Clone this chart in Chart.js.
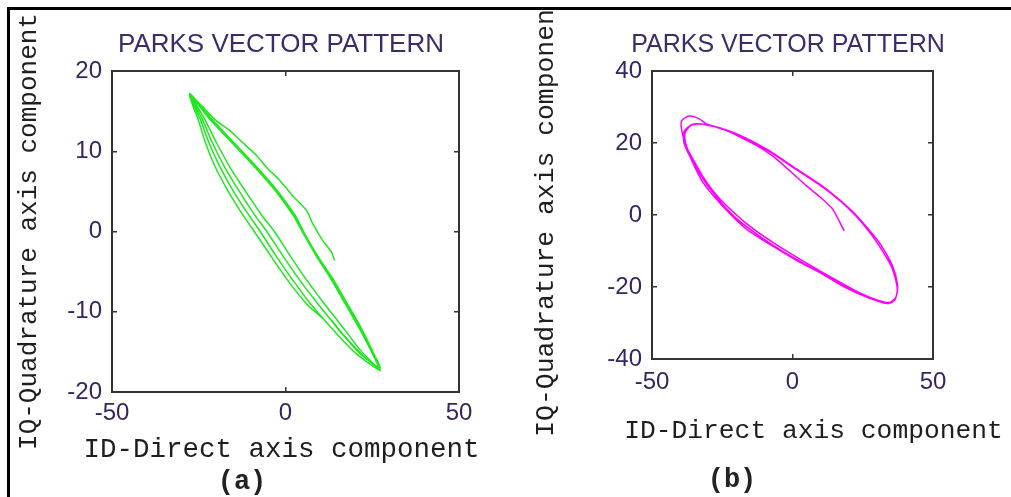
<!DOCTYPE html>
<html>
<head>
<meta charset="utf-8">
<script src="https://cdn.jsdelivr.net/npm/chart.js@4"></script>
<style>
  html, body { margin: 0; padding: 0; background: #fff; }
  body { width: 1011px; height: 497px; position: relative; overflow: hidden; }
  #frameTop { position: absolute; left: 7px; top: 7px; width: 1004px; height: 3px; background: #000; }
  #frameLeft { position: absolute; left: 7px; top: 7px; width: 3px; height: 490px; background: #000; }
  #wrap { position: absolute; left: 10px; top: 10px; width: 1001px; height: 487px; overflow: hidden; }
  #parkA { position: absolute; left: 0; top: 0; }
  #parkB { position: absolute; left: 490px; top: 0; }
</style>
</head>
<body>
<div id="frameTop"></div>
<div id="frameLeft"></div>
<div id="wrap">
  <canvas id="parkA" width="490" height="487"></canvas>
  <canvas id="parkB" width="511" height="487"></canvas>
</div>
<script>
// (a) green pattern: ID (x) and IQ (y) pairs
const aTrace1X = [13.3, 16.0, 19.5, 23.0, 26.5, 27.3, 25.0, 21.5, 17.5, 13.5, 9.0, 5.0, 2.5, -2.5, -8.5, -15.0, -21.5, -27.5,
                  -26.8, -25.2, -23.0, -20.2, -16.5, -12.2, -9.0, -4.3, 0.5, 6.0, 10.7];
const aTrace1Y = [-11.1, -12.6, -14.2, -15.7, -17.0, -17.3, -15.0, -12.0, -9.0, -6.0, -3.0, 0.0, 2.0, 5.0, 8.0, 11.0, 14.0, 17.2,
                  15.8, 14.0, 11.0, 8.0, 5.0, 2.0, 0.0, -3.0, -6.0, -9.0, -10.8];
const aTrace2X = [14.1, 13.3, 10.7, 7.8, 6.1, 2.0, -1.7, -5.5, -8.4, -12.4, -16.1, -20.5, -24.0, -27.7,
                  -24.6, -22.0, -18.8, -15.0, -10.5, -7.3, -2.8, 2.0, 7.2, 13.2, 19.8, 27.0,
                  24.8, 21.2, 17.2, 13.2, 8.8, 4.8, 2.2, -2.8, -8.8, -15.3, -21.8, -27.3,
                  -24.0, -21.0, -17.5, -13.3, -8.8, -5.4, -0.8, 4.0, 9.3, 15.0, 21.0, 27.2,
                  25.2, 21.8, 17.8, 13.8, 9.2, 5.2, 2.8, -2.2, -8.2, -14.7, -21.2, -27.0,
                  -23.3, -19.8, -16.0, -11.5, -6.8, -3.2, 1.3, 6.0, 11.2, 16.6, 22.0, 26.8];
const aTrace2Y = [-3.6, -2.6, -1.1, 1.0, 2.6, 4.5, 6.4, 8.0, 9.5, 11.1, 12.6, 14.0, 15.6, 17.0,
                  14.0, 11.0, 8.0, 5.0, 2.0, 0.0, -3.0, -6.0, -9.0, -12.0, -15.0, -17.2,
                  -15.0, -12.0, -9.0, -6.0, -3.0, 0.0, 2.0, 5.0, 8.0, 11.0, 14.0, 16.9,
                  14.0, 11.0, 8.0, 5.0, 2.0, 0.0, -3.0, -6.0, -9.0, -12.0, -15.0, -17.0,
                  -15.0, -12.0, -9.0, -6.0, -3.0, 0.0, 2.0, 5.0, 8.0, 11.0, 14.0, 16.8,
                  14.0, 11.0, 8.0, 5.0, 2.0, 0.0, -3.0, -6.0, -9.0, -12.0, -15.0, -17.1];

// (b) magenta pattern
const bTraceX = [18.4, 14.2, 9.5, 5.0, -1.0, -7.1, -13.0, -18.8, -25.0, -30.6, -33.1, -36.7, -39.5, -39.3, -37.8, -35.5,
                 -32.0, -28.0, -24.0, -16.0, -7.0, 2.5, 12.1, 23.8, 30.0, 34.5, 36.8, 37.4, 35.5, 31.5, 28.4, 21.3,
                 12.1, 1.4, -9.2, -21.3, -30.5, -35.5, -38.6, -38.6, -36.6, -32.0, -24.9, -16.4, -7.1, 2.5, 12.1, 23.8,
                 30.5, 34.0, 36.4, 37.3, 36.0, 34.4, 28.4, 21.3, 12.1, 1.4, -9.2, -21.3, -30.5, -36.0, -38.3, -37.6,
                 -34.5, -29.5, -20.5, -11.5, -2.0, 8.0, 18.0, 27.0, 33.4];
const bTraceY = [-4.4, 1.7, 5.2, 8.1, 12.3, 16.4, 19.4, 21.7, 24.0, 25.3, 26.7, 27.5, 26.1, 23.0, 19.0, 15.6,
                 10.8, 6.4, 3.0, -2.6, -7.6, -12.2, -16.6, -21.6, -23.6, -24.3, -22.8, -19.5, -14.0, -8.4, -5.2, 1.0,
                 7.2, 12.8, 18.3, 23.0, 25.0, 25.2, 23.2, 20.0, 16.4, 9.2, 2.5, -3.9, -8.6, -13.1, -16.9, -21.9,
                 -24.0, -24.6, -23.6, -20.6, -16.0, -13.1, -5.8, 0.8, 7.0, 12.6, 18.1, 22.8, 25.1, 25.0, 22.6, 18.8,
                 13.6, 7.4, -0.6, -6.0, -10.8, -15.2, -19.8, -23.0, -24.4];

const idTitle = 'ID-Direct axis component';
const iqTitle = 'IQ-Quadrature axis component';
const plotTitle = 'PARKS VECTOR PATTERN';

const sans = '"Liberation Sans", Arial, sans-serif';
const mono = '"Liberation Mono", "Courier New", monospace';
const tickColor = '#36265f';
const frameColor = '#333333';

// plot title, x axis title and (a)/(b) caption, drawn at their natural width
const labelsPlugin = {
    id: 'labels',
    afterDraw: (chart, args, opts) => {
        const ctx = chart.ctx;
        ctx.save();
        ctx.textAlign = 'center';
        ctx.textBaseline = 'middle';
        opts.items.forEach(it => {
            ctx.font = it.font;
            ctx.fillStyle = it.color;
            ctx.fillText(it.text, it.x, it.y);
        });
        ctx.restore();
    }
};

function pairs(xs, ys) {
    return xs.map((v, i) => ({x: v, y: ys[i]}));
}

function parkChart(id, traces, color, c) {
    const frame = {display: true, color: frameColor, width: 2};
    const inTicks = {drawOnChartArea: false, tickLength: -5, color: frameColor, lineWidth: 1.5};
    return new Chart(document.getElementById(id), {
        type: 'scatter',
        data: {
            datasets: traces.map(t => ({
                data: pairs(t[0], t[1]),
                xAxisID: 'x',
                yAxisID: 'y',
                showLine: true,
                borderColor: color,
                backgroundColor: color,
                borderWidth: 1.5,
                pointRadius: 0,
                tension: 0.25,
            }))
        },
        options: {
            responsive: false,
            animation: false,
            layout: {padding: {left: 0, top: 61, right: c.padRight, bottom: 0}},
            plugins: {
                legend: {display: false},
                tooltip: {enabled: false},
                labels: {
                    items: [
                        {text: plotTitle, x: c.titleX, y: 35, font: c.titleSize + 'px ' + sans, color: '#3b2d6b'},
                        {text: idTitle, x: c.xTitleX, y: c.xTitleY, font: c.xTitleSize + 'px ' + mono, color: '#1e1e1e'},
                        {text: c.caption, x: 232, y: c.capY, font: 'bold 27px ' + mono, color: '#222222'},
                    ]
                },
            },
            scales: {
                x: {
                    type: 'linear', position: 'bottom', min: -50, max: 50,
                    ticks: {stepSize: 50, color: tickColor, font: {family: sans, size: 24}, padding: c.xTickPad, maxRotation: 0},
                    grid: inTicks,
                    border: frame,
                    afterFit: s => { s.height = c.xHeight; },
                },
                y: {
                    type: 'linear', position: 'left', min: c.yMin, max: c.yMax,
                    ticks: {stepSize: c.yStep, color: tickColor, font: {family: sans, size: 24}, padding: 15},
                    grid: inTicks,
                    border: frame,
                    title: {display: true, text: iqTitle, color: '#1e1e1e', font: {family: mono, size: c.yTitleSize}, padding: {top: c.yTitlePad, bottom: 0}},
                    afterFit: s => { s.width = c.yWidth; },
                },
                x2: {
                    type: 'linear', position: 'top', min: -50, max: 50,
                    ticks: {stepSize: 50, display: false},
                    grid: inTicks,
                    border: frame,
                    afterFit: s => { s.height = 0; },
                },
                y2: {
                    type: 'linear', position: 'right', min: c.yMin, max: c.yMax,
                    ticks: {stepSize: c.yStep, display: false},
                    grid: inTicks,
                    border: frame,
                    afterFit: s => { s.width = 0; },
                },
            }
        },
        plugins: [labelsPlugin]
    });
}

parkChart('parkA', [[aTrace1X, aTrace1Y], [aTrace2X, aTrace2Y]], '#1fe81f', {
    padRight: 41, titleSize: 26, titleX: 271,
    xTickPad: 11.6, xTitleSize: 27.5, xTitleX: 271.5, xTitleY: 440, xHeight: 105,
    yMin: -20, yMax: 20, yStep: 10, yTitleSize: 26, yTitlePad: 3.4, yWidth: 102,
    caption: '(a)', capY: 472,
});

parkChart('parkB', [[bTraceX, bTraceY]], '#ff00ff', {
    padRight: 78, titleSize: 25, titleX: 288,
    xTickPad: 13.6, xTitleSize: 26.3, xTitleX: 313.5, xTitleY: 421, xHeight: 138,
    yMin: -40, yMax: 40, yStep: 20, yTitleSize: 26.4, yTitlePad: 30.2, yWidth: 152,
    caption: '(b)', capY: 470,
});
</script>
</body>
</html>
